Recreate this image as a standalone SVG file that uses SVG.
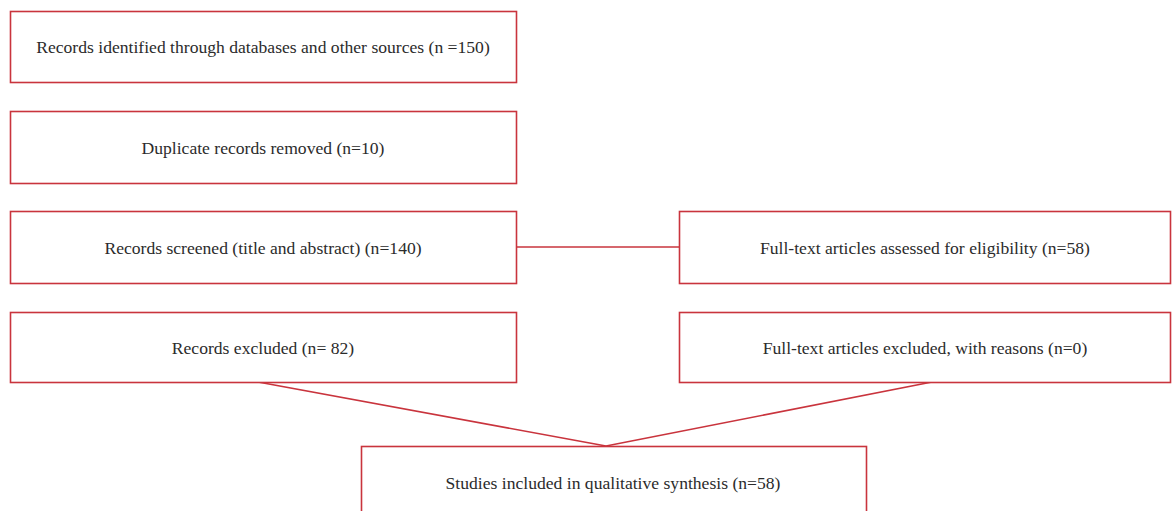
<svg xmlns="http://www.w3.org/2000/svg" width="1173" height="511" viewBox="0 0 1173 511">
<style>
.box{fill:#fff;stroke:#c9343d;stroke-width:1.6}
.lbl{font-family:"Liberation Serif","Times New Roman",serif;font-size:17.6px;fill:#2b2b2b;text-anchor:middle;dominant-baseline:central}
.con{stroke:#c9343d;stroke-width:1.6;fill:none}
</style>
<rect width="1173" height="511" fill="#fff"/>
<g id="connectors">
<line class="con" x1="516" y1="247" x2="679" y2="247"/>
<line class="con" x1="258" y1="382" x2="606" y2="446"/>
<line class="con" x1="932" y1="382" x2="606" y2="446"/>
</g>
<g id="n1"><rect class="box" x="10.5" y="11.5" width="506" height="71"/><text class="lbl" x="263" y="47">Records identified through databases and other sources (n =150)</text></g>
<g id="n2"><rect class="box" x="10.5" y="111.5" width="506" height="72"/><text class="lbl" x="263" y="148">Duplicate records removed (n=10)</text></g>
<g id="n3"><rect class="box" x="10.5" y="211.5" width="506" height="72"/><text class="lbl" x="263" y="248">Records screened (title and abstract) (n=140)</text></g>
<g id="n4"><rect class="box" x="10.5" y="312.5" width="506" height="70"/><text class="lbl" x="263" y="348">Records excluded (n= 82)</text></g>
<g id="n5"><rect class="box" x="679.5" y="211.5" width="491" height="72"/><text class="lbl" x="925" y="248">Full-text articles assessed for eligibility (n=58)</text></g>
<g id="n6"><rect class="box" x="679.5" y="312.5" width="491" height="70"/><text class="lbl" x="925" y="348">Full-text articles excluded, with reasons (n=0)</text></g>
<g id="n7"><rect class="box" x="361.5" y="446.5" width="505" height="70"/><text class="lbl" x="613" y="483">Studies included in qualitative synthesis (n=58)</text></g>
</svg>
